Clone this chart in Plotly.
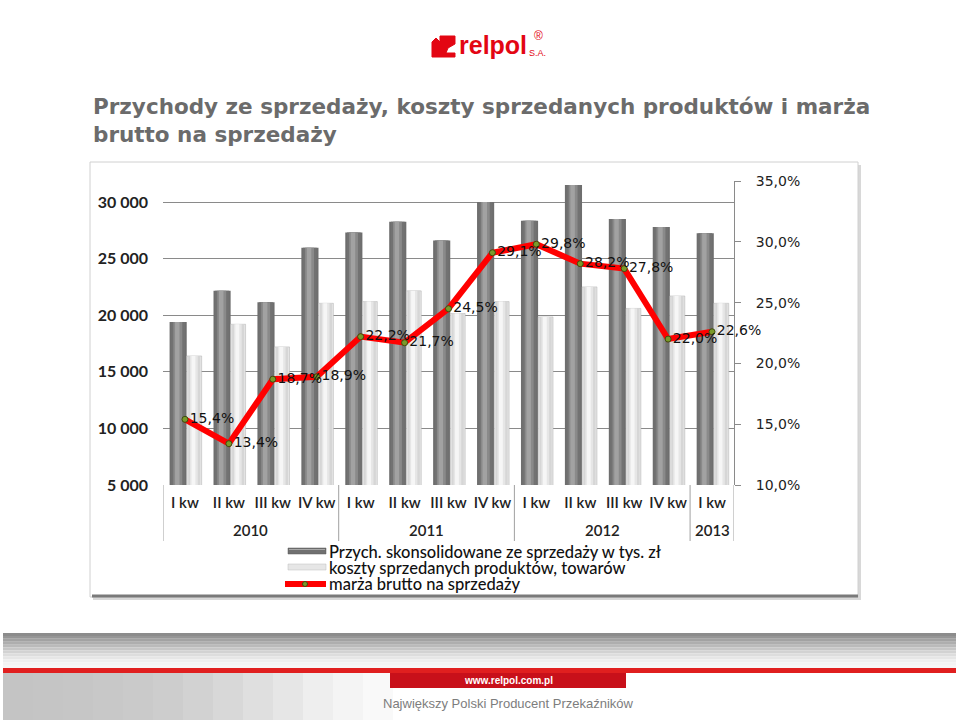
import plotly.graph_objects as go

# ---------------- data ----------------
years = ["2010"] * 4 + ["2011"] * 4 + ["2012"] * 4 + ["2013"]
quarters = ["I kw", "II kw", "III kw", "IV kw"] * 3 + ["I kw"]
revenue = [19400, 22150, 21150, 25950, 27300, 28250, 26600, 30000, 28350, 31500, 28500, 27800, 27250]
costs = [16400, 19200, 17200, 21050, 21200, 22150, 20150, 21200, 19850, 22500, 20600, 21700, 21050]
margin = [15.4, 13.4, 18.7, 18.9, 22.2, 21.7, 24.5, 29.1, 29.8, 28.2, 27.8, 22.0, 22.6]

name_rev = "Przych. skonsolidowane ze sprzedaży w tys. zł"
name_cost = "koszty sprzedanych produktów, towarów"
name_margin = "marża brutto na sprzedaży"
title_text = "Przychody ze sprzedaży, koszty sprzedanych produktów i marża<br>brutto na sprzedaży"

left_ticks = [5000, 10000, 15000, 20000, 25000, 30000]
right_ticks = [10, 15, 20, 25, 30, 35]
right_text = [f"{v:.1f}".replace(".", ",") + "%" for v in right_ticks]

# ---------------- geometry helpers ----------------
W, H = 959, 722
PL, PR, PT, PB = 163, 734, 181, 485


def xp(px):
    return (px - PL) / (PR - PL)


def yp(py):
    return (PB - py) / (PB - PT)


idx = list(range(len(quarters)))
fig = go.Figure()

# cylinder-like bars built from layered bars of the same data
dark_layers = [("#5a5a5a", 0.0, 1.0), ("#727272", 0.1, 0.8), ("#8a8a8a", 0.22, 0.52), ("#a2a2a2", 0.32, 0.26)]
light_layers = [("#c4c4c4", 0.0, 1.0), ("#d6d6d6", 0.1, 0.8), ("#e6e6e6", 0.22, 0.52), ("#f6f6f6", 0.32, 0.26)]

d_off, d_w = -0.35, 0.39
l_off, l_w = 0.04, 0.34

for i, (col, fo, fw) in enumerate(dark_layers):
    fig.add_trace(go.Bar(
        x=idx, y=revenue, name=name_rev,
        marker=dict(color=col if i else "#6e6e6e", line=dict(width=0)),
        offset=d_off + fo * d_w, width=fw * d_w, showlegend=False,
        hoverinfo="skip" if i else None,
    ))
for i, (col, fo, fw) in enumerate(light_layers):
    fig.add_trace(go.Bar(
        x=idx, y=costs, name=name_cost,
        marker=dict(color=col if i else "#e4e4e4", line=dict(width=0 if i else 0.5, color="#b0b0b0")),
        offset=l_off + fo * l_w, width=fw * l_w, showlegend=False,
        hoverinfo="skip" if i else None,
    ))

LINE_RED = "#ff0000"
DOT_GREEN = "#7a9a2a"
fig.add_trace(go.Scatter(
    x=idx, y=margin, name=name_margin, yaxis="y2", mode="lines+markers+text",
    line=dict(color=LINE_RED, width=6),
    marker=dict(size=6, color=DOT_GREEN, line=dict(color="#3d4d10", width=1)),
    text=[f"{v:.1f}".replace(".", ",") + "%" for v in margin],
    textposition="middle right",
    textfont=dict(family="DejaVu Sans", size=14, color="#111111"),
    showlegend=False, cliponaxis=False,
))

shapes = []
# chart frame with shadow
shapes.append(dict(type="rect", xref="paper", yref="paper", x0=xp(93), x1=xp(861), y0=yp(600), y1=yp(165),
                   fillcolor="#d8d8d8", line=dict(width=0), layer="below"))
shapes.append(dict(type="rect", xref="paper", yref="paper", x0=xp(90), x1=xp(858), y0=yp(597), y1=yp(162),
                   fillcolor="#ffffff", line=dict(color="#d0d0d0", width=1), layer="below"))
shapes.append(dict(type="line", xref="paper", yref="paper", x0=xp(92), x1=xp(858), y0=yp(596), y1=yp(596),
                   line=dict(color="#7a7a7a", width=3), layer="below"))

# year group labels and dividers (derived from the years list)
groups = []
for i, yv in enumerate(years):
    if not groups or groups[-1][0] != yv:
        groups.append([yv, i, i])
    else:
        groups[-1][2] = i
annotations = []
bounds = [groups[0][1] - 0.5] + [g[2] + 0.5 for g in groups]
for b in bounds:
    shapes.append(dict(type="line", xref="x", yref="paper", x0=b, x1=b, y0=yp(485), y1=yp(541),
                       line=dict(color="#a0a0a0", width=1)))
for yv, a, b in groups:
    annotations.append(dict(text=yv, xref="x", yref="paper", x=(a + b) / 2, y=yp(530), xanchor="center",
                            yanchor="middle", showarrow=False,
                            font=dict(family="Lato", size=15, color="#222222", weight=600)))

# legend (key symbols + labels)
shapes.append(dict(type="rect", xref="paper", yref="paper", x0=xp(288), x1=xp(326), y0=yp(554), y1=yp(548),
                   fillcolor="#707070", line=dict(color="#5a5a5a", width=0.5)))
shapes.append(dict(type="line", xref="paper", yref="paper", x0=xp(289), x1=xp(325), y0=yp(549.5), y1=yp(549.5),
                   line=dict(color="#a8a8a8", width=1)))
shapes.append(dict(type="rect", xref="paper", yref="paper", x0=xp(288), x1=xp(326), y0=yp(570), y1=yp(564),
                   fillcolor="#e6e6e6", line=dict(color="#bdbdbd", width=0.5)))
shapes.append(dict(type="line", xref="paper", yref="paper", x0=xp(285), x1=xp(326), y0=yp(584), y1=yp(584),
                   line=dict(color=LINE_RED, width=6)))
shapes.append(dict(type="circle", xref="paper", yref="paper", x0=xp(302.5), x1=xp(307.5), y0=yp(586.5),
                   y1=yp(581.5), fillcolor=DOT_GREEN, line=dict(color="#3d4d10", width=1)))
legend_font = dict(family="Lato", size=16.5, color="#111111", weight=500)
legend_items = [(name_rev, 551.5), (name_cost, 568), (name_margin, 584)]

# footer band with gradient
band_cols = ["#8c8c8c", "#969696", "#a2a2a2", "#aeaeae", "#bababa", "#c6c6c6", "#d2d2d2", "#dddddd",
             "#e6e6e6", "#eeeeee", "#f3f3f3", "#f6f6f6"]
top, bottom = 633, 668
step = (bottom - top) / len(band_cols)
for k, c in enumerate(band_cols):
    shapes.append(dict(type="rect", xref="paper", yref="paper", x0=xp(3), x1=xp(956),
                       y0=yp(top + (k + 1) * step), y1=yp(top + k * step),
                       fillcolor=c, line=dict(width=0), layer="below"))
shapes.append(dict(type="rect", xref="paper", yref="paper", x0=xp(3), x1=xp(956), y0=yp(673), y1=yp(668),
                   fillcolor="#e01f1f", line=dict(width=0), layer="below"))
low_cols = ["#c4c4c4", "#c5c5c5", "#c6c6c6", "#c8c8c8", "#cacaca", "#cdcdcd", "#d2d2d2", "#d8d8d8",
            "#dfdfdf", "#e6e6e6", "#eeeeee", "#f4f4f4", "#f9f9f9"]
for k, c in enumerate(low_cols):
    shapes.append(dict(type="rect", xref="paper", yref="paper", x0=xp(3 + k * 30), x1=xp(3 + (k + 1) * 30),
                       y0=yp(720), y1=yp(673), fillcolor=c, line=dict(width=0), layer="below"))
shapes.append(dict(type="rect", xref="paper", yref="paper", x0=xp(390), x1=xp(626), y0=yp(688), y1=yp(673),
                   fillcolor="#c8101a", line=dict(width=0), layer="below"))
# logo icon
icon = [(432, 57), (432, 42), (436, 38), (440, 42), (440, 36), (455, 36), (455, 44), (448, 48), (446, 53), (455, 53), (455, 57)]
path = "M " + " L ".join(f"{xp(a):.5f},{yp(b):.5f}" for a, b in icon) + " Z"
shapes.append(dict(type="path", xref="paper", yref="paper", path=path, fillcolor="#e30613",
                   line=dict(color="#e30613", width=1), layer="below"))

annotations += [
    dict(text=title_text, xref="paper", yref="paper", x=xp(91), y=yp(92), xanchor="left", yanchor="top",
         align="left", showarrow=False,
         font=dict(family="DejaVu Sans", size=21.5, color="#6b6b6b", weight="bold")),
    dict(text="relpol", xref="paper", yref="paper", x=xp(457), y=yp(45), xanchor="left", yanchor="middle",
         showarrow=False, font=dict(family="Liberation Sans", size=25, color="#e30613", weight="bold")),
    dict(text="S.A.", xref="paper", yref="paper", x=xp(527), y=yp(53), xanchor="left", yanchor="middle",
         showarrow=False, font=dict(family="Liberation Sans", size=9, color="#e30613")),
    dict(text="®", xref="paper", yref="paper", x=xp(532), y=yp(36), xanchor="left", yanchor="middle",
         showarrow=False, font=dict(family="Liberation Sans", size=12, color="#e30613")),
    dict(text="www.relpol.com.pl", xref="paper", yref="paper", x=xp(508), y=yp(680), xanchor="center",
         yanchor="middle", showarrow=False,
         font=dict(family="Liberation Sans", size=10, color="#ffffff", weight="bold")),
    dict(text="Największy Polski Producent Przekaźników", xref="paper", yref="paper", x=xp(508), y=yp(703),
         xanchor="center", yanchor="middle", showarrow=False,
         font=dict(family="Liberation Sans", size=13, color="#7d7d7d")),
]
for label, py in legend_items:
    annotations.append(dict(text=label, xref="paper", yref="paper", x=xp(327), y=yp(py), xanchor="left",
                            yanchor="middle", showarrow=False, font=legend_font))

fig.update_layout(
    width=W, height=H,
    margin=dict(l=PL, r=W - PR, t=PT, b=H - PB, autoexpand=False),
    paper_bgcolor="#ffffff", plot_bgcolor="rgba(0,0,0,0)",
    barmode="overlay", separators=", ",
    showlegend=False,
    xaxis=dict(range=[bounds[0], bounds[-1]], tickvals=idx, ticktext=quarters, showgrid=False,
               showline=False, zeroline=False, ticks="", tickangle=0, ticklabelstandoff=7,
               tickfont=dict(family="Lato", size=15, color="#222222", weight=600)),
    yaxis=dict(range=[5000, 5000 + (PB - PT) * 25000 / 283], tickvals=left_ticks, tickformat=",.0f",
               showgrid=True, gridcolor="#8a8a8a", gridwidth=1, zeroline=False, showline=False,
               tickfont=dict(family="Lato", size=16, color="#222222", weight=700), ticks="",
               ticklabelstandoff=14),
    yaxis2=dict(range=[10, 35], tickvals=right_ticks, ticktext=right_text, overlaying="y",
                side="right", showgrid=False, zeroline=False, showline=True, linecolor="#8a8a8a",
                ticks="outside", ticklen=6, tickcolor="#8a8a8a",
                tickfont=dict(family="DejaVu Sans", size=14, color="#222222"), ticklabelstandoff=12),
    shapes=shapes, annotations=annotations,
)

fig.write_html("out.html", config={"displayModeBar": False},
               post_script="document.body.style.margin='0';document.body.style.overflow='hidden';")
